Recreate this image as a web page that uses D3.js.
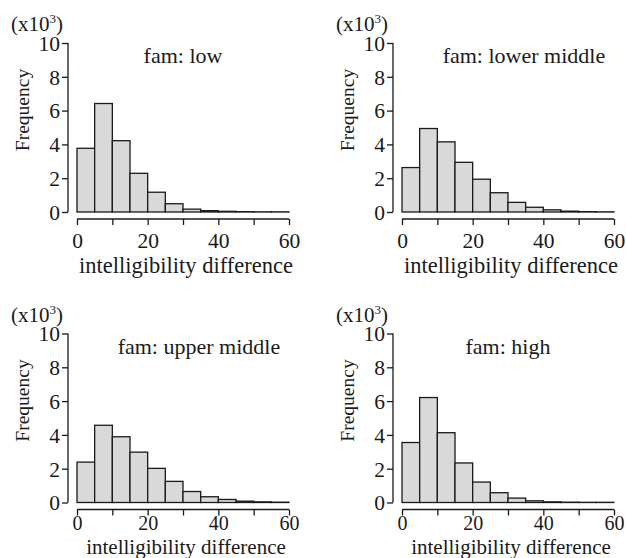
<!DOCTYPE html>
<html>
<head>
<meta charset="utf-8">
<script src="https://cdn.jsdelivr.net/npm/d3@7"></script>
<style>
  body { margin: 0; background: #fff; }
  svg text { font-family: "Liberation Serif", "Times New Roman", serif; fill: #1a1a1a; }
</style>
</head>
<body>
<svg id="chart" width="626" height="558"></svg>
<script>
// histogram bins (intelligibility difference), width 5
var binStart = [0, 5, 10, 15, 20, 25, 30, 35, 40, 45, 50, 55];
var binWidth = 5;

// frequency in thousands
var freqLow         = [3.77, 6.42, 4.22, 2.29, 1.17, 0.49, 0.17, 0.08, 0.04, 0.02, 0.01, 0.01];
var freqLowerMiddle = [2.63, 4.94, 4.15, 2.94, 1.94, 1.14, 0.57, 0.28, 0.13, 0.05, 0.02, 0.01];
var freqUpperMiddle = [2.39, 4.57, 3.89, 2.98, 2.02, 1.25, 0.65, 0.34, 0.18, 0.08, 0.04, 0.02];
var freqHigh        = [3.55, 6.21, 4.13, 2.34, 1.21, 0.58, 0.26, 0.10, 0.04, 0.02, 0.01, 0.01];

var titles = ["fam: low", "fam: lower middle", "fam: upper middle", "fam: high"];
var yTicks = [0, 2, 4, 6, 8, 10];
var xTicks = [0, 10, 20, 30, 40, 50, 60];
var xTickLabels = [0, 20, 40, 60];

var svg = d3.select("#chart");

// panel layout (bottom row is squeezed a bit at the page edge)
var colLeft = [0, 325];
var rowTop = [0, 290.5];
var rowTickPad = [8, 0];
var rowTickFont = [21.5, 20];
var rowLabelY = [273, 263];
var rowLabelFont = [22.5, 21];
var titleCenter = [30, 34.5, 34.5, 30];   // in x-axis units

var panels = [
  { values: freqLow,         title: titles[0], col: 0, row: 0 },
  { values: freqLowerMiddle, title: titles[1], col: 1, row: 0 },
  { values: freqUpperMiddle, title: titles[2], col: 0, row: 1 },
  { values: freqHigh,        title: titles[3], col: 1, row: 1 }
];

function drawPanel(p, i) {
  var g = svg.append("g")
    .attr("transform", "translate(" + colLeft[p.col] + "," + rowTop[p.row] + ")");

  var x = d3.scaleLinear().domain([0, 60]).range([77, 289]);
  var y = d3.scaleLinear().domain([0, 10]).range([212, 43]);

  // bars
  g.selectAll("rect.bar")
    .data(p.values)
    .enter().append("rect")
    .attr("class", "bar")
    .attr("x", function(d, j) { return x(binStart[j]); })
    .attr("y", function(d) { return y(d); })
    .attr("width", function(d, j) { return x(binStart[j] + binWidth) - x(binStart[j]); })
    .attr("height", function(d) { return y(0) - y(d); })
    .attr("fill", "#d9d9d9")
    .attr("stroke", "#1a1a1a")
    .attr("stroke-width", 1.3);

  // y axis
  var yAxis = g.append("g")
    .attr("transform", "translate(68,0)")
    .call(d3.axisLeft(y).tickValues(yTicks).tickSize(6).tickPadding(2).tickFormat(d3.format("d")));
  yAxis.select(".domain").attr("d", "M0," + y(0) + "V" + y(10)).attr("stroke", "#1a1a1a").attr("stroke-width", 1.3);
  yAxis.selectAll(".tick line").attr("stroke", "#1a1a1a").attr("stroke-width", 1.3);
  yAxis.selectAll(".tick text").attr("font-size", 21.5).attr("font-family", null).attr("dy", "0.34em");

  // x axis
  var xAxis = g.append("g")
    .attr("transform", "translate(0,219)")
    .call(d3.axisBottom(x).tickValues(xTicks).tickSize(6).tickPadding(rowTickPad[p.row])
      .tickFormat(function(d) { return xTickLabels.indexOf(d) >= 0 ? d : ""; }));
  xAxis.select(".domain").attr("d", "M" + x(0) + ",0H" + x(60)).attr("stroke", "#1a1a1a").attr("stroke-width", 1.6);
  xAxis.selectAll(".tick line").attr("stroke", "#1a1a1a").attr("stroke-width", 1.3);
  xAxis.selectAll(".tick text").attr("font-size", rowTickFont[p.row]).attr("font-family", null);

  // (x10^3)
  var mult = g.append("text").attr("x", 11).attr("y", 31).attr("font-size", 21);
  mult.append("tspan").text("(x10");
  mult.append("tspan").attr("font-size", 13).attr("dy", -8).text("3");
  mult.append("tspan").attr("dy", 8).text(")");

  // y label
  g.append("text")
    .attr("transform", "translate(29," + 110 + ") rotate(-90)")
    .attr("text-anchor", "middle")
    .attr("font-size", 19.5)
    .text("Frequency");

  // panel title
  g.append("text")
    .attr("x", x(titleCenter[i]))
    .attr("y", y(10) + 20)
    .attr("text-anchor", "middle")
    .attr("font-size", 22)
    .text(p.title);

  // x label
  g.append("text")
    .attr("x", 186)
    .attr("y", rowLabelY[p.row])
    .attr("text-anchor", "middle")
    .attr("font-size", rowLabelFont[p.row])
    .text("intelligibility difference");
}

panels.forEach(drawPanel);
</script>
</body>
</html>
